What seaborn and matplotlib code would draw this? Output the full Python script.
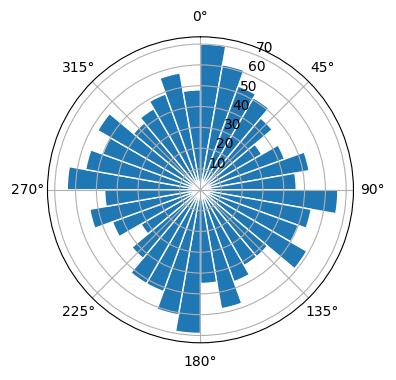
import numpy as np
import seaborn as sns
import matplotlib as mpl
mpl.use('Agg')
import matplotlib.pyplot as plt

# counts per 10 degree sector, clockwise from north
bin_start_deg = np.arange(0, 360, 10)
counts = [70, 61, 53, 51, 45, 34, 43, 53, 46, 66,
          54, 50, 59, 42, 42, 47, 58, 45, 69, 61,
          52, 52, 43, 33, 45, 54, 46, 64, 56, 50,
          57, 42, 45, 49, 57, 48]

color = sns.color_palette()[0]

fig = plt.figure(figsize=(3.96, 3.8), dpi=100)
ax = fig.add_axes([0.1199, 0.0979, 0.7727, 0.8053], projection='polar')
ax.set_theta_zero_location('N')
ax.set_theta_direction(-1)

theta = np.deg2rad(bin_start_deg)
ax.bar(theta, counts, width=np.deg2rad(10), align='edge',
       color=color, edgecolor='white', linewidth=1)

plt.savefig('out.png', dpi=100)
